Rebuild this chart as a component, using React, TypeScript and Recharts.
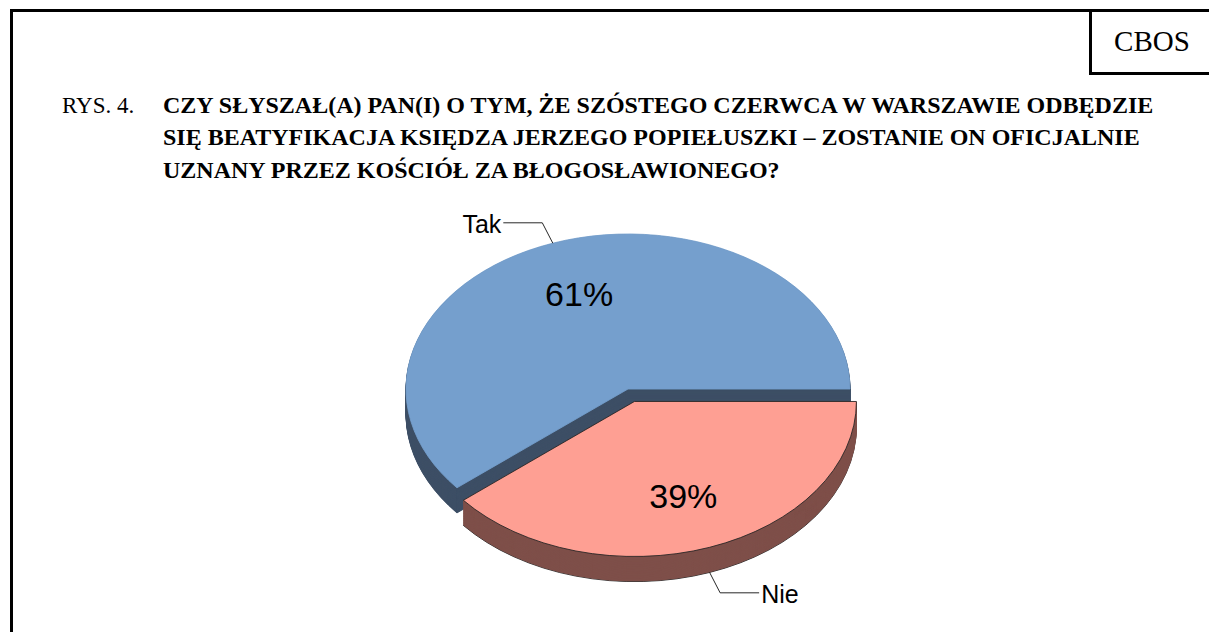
import { PieChart, Pie, Cell } from "recharts";

// dane z rysunku
const categories = ["Tak", "Nie"];
const values = [61, 39];
const titleLines = [
  "CZY SŁYSZAŁ(A) PAN(I) O TYM, ŻE SZÓSTEGO CZERWCA W WARSZAWIE ODBĘDZIE",
  "SIĘ BEATYFIKACJA KSIĘDZA JERZEGO POPIEŁUSZKI – ZOSTANIE ON OFICJALNIE",
  "UZNANY PRZEZ KOŚCIÓŁ ZA BŁOGOSŁAWIONEGO?",
];
const topColors = ["#759fcd", "#fe9f93"];
const sideColors = ["#3d4f66", "#7e4f49"];

const W = 1209;
const H = 632;
const K = 155 / 222; // spłaszczenie elipsy
const CX = 628;
const CY = 389 / K;
const R = 222;
const DEPTH = 36;
const EXPLODE = 19;

const data = categories.map((name, i) => ({ name, value: values[i] }));
const total = values.reduce((a, b) => a + b, 0);
const nieMid = ((values[0] + values[1] / 2) / total) * 360;
const exDx = EXPLODE * Math.cos((nieMid * Math.PI) / 180);
const exDy = -EXPLODE * Math.sin((nieMid * Math.PI) / 180);

const layers: number[] = [];
for (let d = DEPTH; d >= 1; d--) layers.push(d);

const font = "'Liberation Sans', Arial, sans-serif";
const serif = "'Liberation Serif', 'Times New Roman', serif";

function makeLabel(visible: number) {
  return (p: any) => {
    if (p.index !== visible) return null;
    const rad = (p.midAngle * Math.PI) / 180;
    const c = Math.cos(rad);
    const s = Math.sin(rad);
    const ix = p.cx + p.outerRadius * 0.65 * c;
    const iy = p.cy - p.outerRadius * 0.65 * s;
    const x0 = p.cx + p.outerRadius * c;
    const y0 = p.cy - p.outerRadius * s + (s < 0 ? DEPTH : 0);
    const x1 = x0 + 31 * c;
    const y1 = y0 - 31 * s;
    const x2 = x1 + (c >= 0 ? 39 : -39);
    return (
      <g>
        <text
          x={0}
          y={0}
          transform={`translate(${ix} ${iy}) scale(1 ${1 / K})`}
          textAnchor="middle"
          dominantBaseline="central"
          fontSize={34}
          fontFamily={font}
          fill="#000"
        >
          {Math.round(p.percent * 100)}%
        </text>
        <path
          d={`M${x0},${y0}L${x1},${y1}L${x2},${y1}`}
          fill="none"
          stroke="#000"
          strokeWidth={1}
          vectorEffect="non-scaling-stroke"
        />
        <text
          x={0}
          y={0}
          transform={`translate(${x2 + (c >= 0 ? 2 : -2)} ${y1 + 2}) scale(1 ${1 / K})`}
          textAnchor={c >= 0 ? "start" : "end"}
          dominantBaseline="central"
          fontSize={25}
          fontFamily={font}
          fill="#000"
        >
          {p.name}
        </text>
      </g>
    );
  };
}

function slicePies(idx: number, cx: number, cy: number) {
  const out = layers.map((d) => (
    <Pie
      key={`s${idx}-${d}`}
      data={data}
      dataKey="value"
      nameKey="name"
      cx={cx}
      cy={cy + d}
      outerRadius={R}
      startAngle={0}
      endAngle={360}
      isAnimationActive={false}
      labelLine={false}
    >
      {data.map((_, i) => (
        <Cell
          key={i}
          fill={i === idx ? sideColors[idx] : "transparent"}
          stroke={i === idx ? (d === DEPTH && idx === 1 ? "#222" : sideColors[idx]) : "none"}
          strokeWidth={1}
        />
      ))}
    </Pie>
  ));
  out.push(
    <Pie
      key={`t${idx}`}
      data={data}
      dataKey="value"
      nameKey="name"
      cx={cx}
      cy={cy}
      outerRadius={R}
      startAngle={0}
      endAngle={360}
      isAnimationActive={false}
      labelLine={false}
      label={makeLabel(idx)}
    >
      {data.map((_, i) => (
        <Cell
          key={i}
          fill={i === idx ? topColors[idx] : "transparent"}
          stroke={i === idx ? (idx === 1 ? "#222" : topColors[idx]) : "none"}
          strokeWidth={1}
          vectorEffect="non-scaling-stroke"
        />
      ))}
    </Pie>
  );
  return out;
}

export default function App() {
  return (
    <div
      style={{
        position: "relative",
        width: W,
        height: H,
        overflow: "hidden",
        background: "#fff",
      }}
    >
      <style>{`body{margin:0}`}</style>
      <svg
        width={W}
        height={H}
        style={{ position: "absolute", left: 0, top: 0 }}
      >
        <path d={`M11.5,${H}V10.5H${W}`} fill="none" stroke="#000" strokeWidth={3} />
        <path d={`M1090.5,10.5V73.5H${W}`} fill="none" stroke="#000" strokeWidth={3} />
        <text x={1152} y={51} textAnchor="middle" fontSize={29} fontFamily={serif}>
          CBOS
        </text>
        <text x={62} y={112.5} fontSize={23} fontFamily={serif}>
          RYS. 4.
        </text>
        {titleLines.map((t, i) => (
          <text
            key={i}
            x={163}
            y={112.5 + i * 32.5}
            fontSize={24}
            fontWeight="bold"
            fontFamily={serif}
          >
            {t}
          </text>
        ))}
      </svg>
      <div
        style={{
          position: "absolute",
          left: 0,
          top: 0,
          width: W,
          height: H / K,
          transform: `scaleY(${K})`,
          transformOrigin: "0 0",
        }}
      >
        <PieChart
          width={W}
          height={Math.round(H / K)}
          margin={{ top: 0, right: 0, bottom: 0, left: 0 }}
        >
          {slicePies(0, CX, CY)}
          {slicePies(1, CX + exDx, CY + exDy)}
        </PieChart>
      </div>
    </div>
  );
}
